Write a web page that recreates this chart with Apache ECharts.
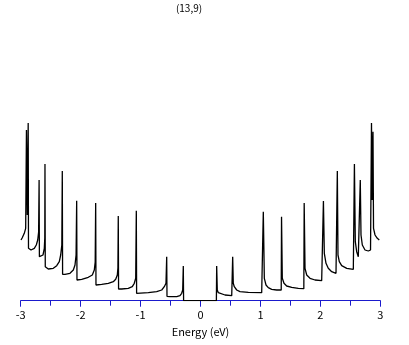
<!DOCTYPE html>
<html>
<head>
<meta charset="utf-8">
<script src="https://cdn.jsdelivr.net/npm/echarts@6/dist/echarts.min.js"></script>
<style>html,body{margin:0;padding:0;background:#fff}#c{width:409px;height:345px}</style>
</head>
<body>
<div id="c"></div>
<script>
const chartTitle = "(13,9)";
const xAxisName = "Energy (eV)";
const xTicks = [-3, -2, -1, 0, 1, 2, 3];
// energy (eV) sampled along the density-of-states curve
const energyEV = [
  -2.995,-2.974,-2.940,-2.917,-2.904,-2.890,-2.875,-2.870,-2.828,-2.773,-2.740,-2.716,-2.701,-2.693,-2.688,
  -2.661,-2.628,-2.606,-2.598,-2.595,-2.590,-2.540,-2.456,-2.399,-2.356,-2.333,-2.314,-2.306,-2.301,
  -2.261,-2.178,-2.122,-2.094,-2.076,-2.066,-2.061,-1.982,-1.872,-1.805,-1.772,-1.757,-1.749,-1.744,
  -1.649,-1.538,-1.455,-1.415,-1.388,-1.378,-1.372,-1.367,-1.315,-1.205,-1.138,-1.105,-1.081,-1.071,-1.066,
  -1.038,-0.871,-0.731,-0.647,-0.604,-0.576,-0.564,-0.559,-0.509,-0.397,-0.342,-0.314,-0.297,-0.287,-0.282,
  0.265,0.270,0.280,0.297,0.325,0.409,0.521,0.532,0.537,0.547,0.564,0.604,0.659,0.798,1.021,1.043,
  1.048,1.065,1.093,1.131,1.188,1.271,1.347,1.352,1.365,1.393,1.438,1.522,1.632,1.724,1.730,1.744,
  1.772,1.827,1.911,2.022,2.044,2.051,2.066,2.094,2.132,2.189,2.261,2.278,2.283,2.294,2.316,2.356,
  2.440,2.550,2.561,2.568,2.583,2.606,2.633,2.656,2.666,2.678,2.700,2.745,2.800,2.837,2.853,2.865,
  2.878,2.887,2.912,2.950,2.983
];
// density of states (arbitrary units)
const dosValue = [
  0.607,0.630,0.674,0.724,1.707,0.857,1.777,0.524,0.507,0.524,0.557,0.607,0.687,1.207,0.440,
  0.424,0.457,0.524,0.627,1.367,0.340,0.317,0.324,0.350,0.390,0.457,0.557,1.297,0.264,
  0.264,0.274,0.307,0.357,0.457,1.000,0.207,0.214,0.234,0.257,0.307,0.387,0.977,0.157,
  0.164,0.174,0.190,0.214,0.257,0.327,0.847,0.117,0.117,0.124,0.140,0.174,0.224,0.900,0.074,
  0.074,0.080,0.090,0.107,0.140,0.174,0.440,0.044,0.040,0.040,0.050,0.074,0.107,0.347,0.000,
  0.000,0.347,0.107,0.080,0.064,0.057,0.050,0.050,0.440,0.174,0.140,0.107,0.090,0.084,0.080,0.080,
  0.890,0.224,0.157,0.130,0.114,0.107,0.107,0.840,0.224,0.174,0.147,0.134,0.124,0.120,0.977,0.324,
  0.257,0.224,0.207,0.200,0.200,0.997,0.474,0.374,0.324,0.290,0.274,0.272,1.297,0.457,0.390,0.350,
  0.324,0.314,0.314,1.367,0.590,0.490,0.440,0.424,1.207,0.657,0.557,0.507,0.497,0.507,1.777,1.007,
  1.690,0.724,0.657,0.624,0.607
];

const data = energyEV.map((e, i) => [e, dosValue[i]]);
const chart = echarts.init(document.getElementById('c'), null, {renderer: 'canvas'});
const fontFam = '"Noto Sans CJK JP", "DejaVu Sans", sans-serif';
chart.setOption({
  animation: false,
  backgroundColor: '#ffffff',
  title: {
    text: chartTitle, left: 184, top: -2, textAlign: 'center',
    textStyle: {fontSize: 10, fontWeight: 'normal', color: '#000', fontFamily: fontFam}
  },
  grid: {left: 20.7, right: 28.7, top: 20.7, bottom: 44.3},
  xAxis: {
    type: 'value', min: xTicks[0], max: xTicks[xTicks.length - 1], interval: 1,
    name: xAxisName, nameLocation: 'middle', nameGap: 26,
    nameTextStyle: {fontSize: 11, color: '#000', fontFamily: fontFam},
    axisLine: {show: true, onZero: false, lineStyle: {color: '#1a1acc', width: 1}},
    axisTick: {show: true, length: 6, lineStyle: {color: '#1a1acc'}},
    minorTick: {show: true, splitNumber: 2, length: 5, lineStyle: {color: '#1a1acc'}},
    axisLabel: {fontSize: 11, color: '#000', margin: 9, fontFamily: fontFam},
    splitLine: {show: false}
  },
  yAxis: {type: 'value', min: 0, max: 2.8, show: false, splitLine: {show: false}},
  series: [{
    type: 'line', data: data, showSymbol: false, symbol: 'none',
    lineStyle: {color: '#000', width: 1.3}, z: 5
  }]
});
</script>
</body>
</html>
